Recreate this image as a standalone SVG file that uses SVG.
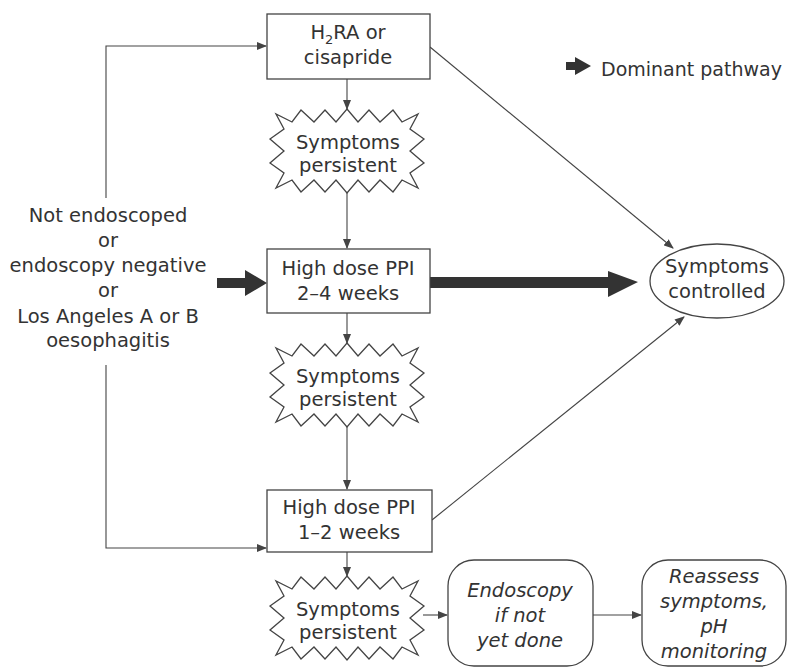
<svg xmlns="http://www.w3.org/2000/svg" width="788" height="668" viewBox="0 0 788 668">
<style>
text{font-family:"DejaVu Sans","Liberation Sans",sans-serif;font-size:19.5px;fill:#333;text-anchor:middle}
.it{font-style:italic}
.box{fill:#fff;stroke:#444;stroke-width:1.3}
.ln{fill:none;stroke:#444;stroke-width:1.1}
.thick{fill:#333;stroke:none}
</style>
<defs>
<marker id="ah" markerWidth="10" markerHeight="8" refX="9" refY="4" orient="auto" markerUnits="userSpaceOnUse">
<path d="M0,0 L10,4 L0,8 Z" fill="#444"/>
</marker>
<path id="star" d="M0,-42 L11,-29 L22,-41 L33,-29 L46,-41 L55,-29 L71,-37 L63,-22 L77,-12 L63,0 L77,12 L63,22 L71,37 L55,29 L46,41 L33,29 L22,41 L11,29 L0,42 L-11,29 L-22,41 L-33,29 L-46,41 L-55,29 L-71,37 L-63,22 L-77,12 L-63,0 L-77,-12 L-63,-22 L-71,-37 L-55,-29 L-46,-41 L-33,-29 L-22,-41 L-11,-29 Z"/>
</defs>
<rect width="788" height="668" fill="#fff"/>

<g id="connectors">
<path class="ln" d="M106,198 L106,46 L266,46" marker-end="url(#ah)"/>
<path class="ln" d="M106,365 L106,548 L266,548" marker-end="url(#ah)"/>
<path class="ln" d="M347,79 L347,109" marker-end="url(#ah)"/>
<path class="ln" d="M347,193 L347,248" marker-end="url(#ah)"/>
<path class="ln" d="M347,313 L347,343" marker-end="url(#ah)"/>
<path class="ln" d="M347,427 L347,489" marker-end="url(#ah)"/>
<path class="ln" d="M347,552 L347,576" marker-end="url(#ah)"/>
<path class="ln" d="M423,615 L447,615" marker-end="url(#ah)"/>
<path class="ln" d="M593,615 L641,615" marker-end="url(#ah)"/>
<path class="ln" d="M430,47 L673,248" marker-end="url(#ah)"/>
<path class="ln" d="M432,520 L684,317" marker-end="url(#ah)"/>
<polygon class="thick" points="217,278 245,278 245,270 267,283 245,296 245,288 217,288"/>
<polygon class="thick" points="430,277 608,277 608,271 638,282 608,297 608,288 430,288"/>
</g>

<g id="legend">
<polygon class="thick" points="566,62 575,62 575,57 591,66 575,75 575,70 566,70"/>
<text x="601" y="76" style="text-anchor:start;font-size:19px">Dominant pathway</text>
</g>

<g id="entry">
<text x="108" y="222">Not endoscoped</text>
<text x="108" y="247">or</text>
<text x="108" y="272">endoscopy negative</text>
<text x="108" y="297">or</text>
<text x="108" y="323">Los Angeles A or B</text>
<text x="108" y="347">oesophagitis</text>
</g>

<g id="h2ra">
<rect class="box" x="267" y="14" width="163" height="65"/>
<text x="348" y="39">H<tspan font-size="13" dy="5">2</tspan><tspan dy="-5">RA or</tspan></text>
<text x="348" y="64">cisapride</text>
</g>

<g id="persist1">
<use href="#star" transform="translate(347,151)" class="box"/>
<text x="348" y="149">Symptoms</text>
<text x="348" y="172">persistent</text>
</g>

<g id="ppi24">
<rect class="box" x="267" y="249" width="163" height="64"/>
<text x="348" y="275">High dose PPI</text>
<text x="348" y="300">2–4 weeks</text>
</g>

<g id="controlled">
<ellipse class="box" cx="717" cy="281" rx="67" ry="37"/>
<text x="717" y="273">Symptoms</text>
<text x="717" y="298">controlled</text>
</g>

<g id="persist2">
<use href="#star" transform="translate(347,385)" class="box"/>
<text x="348" y="383">Symptoms</text>
<text x="348" y="406">persistent</text>
</g>

<g id="ppi12">
<rect class="box" x="267" y="490" width="165" height="62"/>
<text x="349" y="514">High dose PPI</text>
<text x="349" y="539">1–2 weeks</text>
</g>

<g id="persist3">
<use href="#star" transform="translate(347,618)" class="box"/>
<text x="348" y="616">Symptoms</text>
<text x="348" y="639">persistent</text>
</g>

<g id="endoscopy">
<rect class="box" x="448" y="560" width="145" height="106" rx="26"/>
<text class="it" x="520" y="597">Endoscopy</text>
<text class="it" x="520" y="622">if not</text>
<text class="it" x="520" y="647">yet done</text>
</g>

<g id="reassess">
<rect class="box" x="642" y="560" width="144" height="106" rx="26"/>
<text class="it" x="714" y="583">Reassess</text>
<text class="it" x="714" y="608">symptoms,</text>
<text class="it" x="714" y="633">pH</text>
<text class="it" x="714" y="658">monitoring</text>
</g>
</svg>
